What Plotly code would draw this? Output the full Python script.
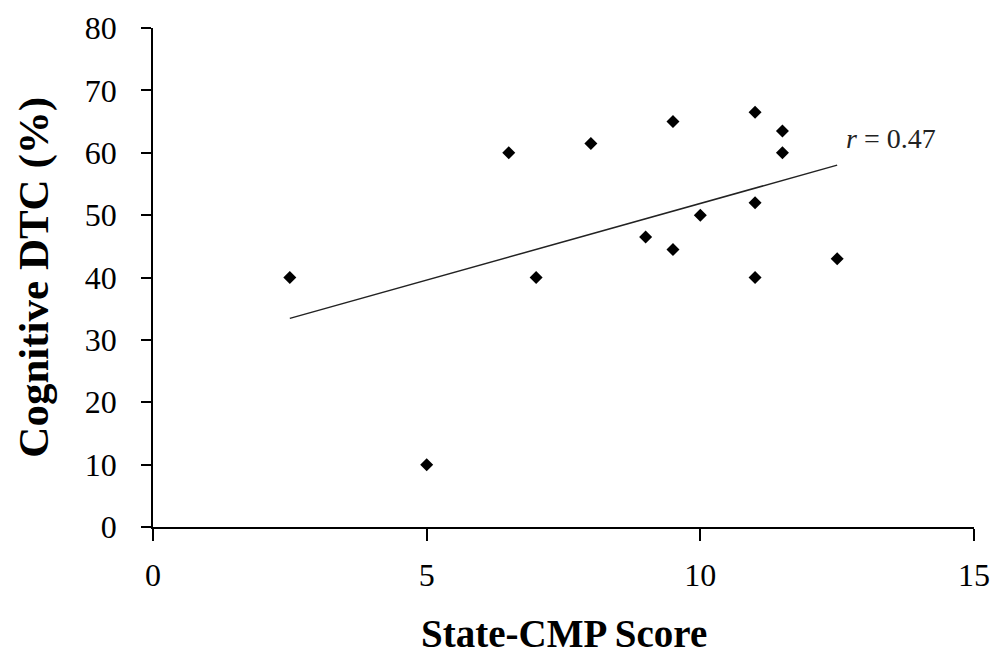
import numpy as np
import plotly.graph_objects as go

# Data
state_cmp = [2.5, 5, 6.5, 7, 8, 9, 9.5, 9.5, 10, 11, 11, 11, 11.5, 11.5, 12.5]
cognitive_dtc = [40, 10, 60, 40, 61.5, 46.5, 65, 44.5, 50, 66.5, 52, 40, 63.5, 60, 43]
x_ticks = [0, 5, 10, 15]
y_ticks = [0, 10, 20, 30, 40, 50, 60, 70, 80]
r_label = "<i>r</i> = 0.47"

# Linear trend line fitted to the data
slope, intercept = np.polyfit(state_cmp, cognitive_dtc, 1)
tx = np.array([min(state_cmp), max(state_cmp)])
ty = slope * tx + intercept

fig = go.Figure()
fig.add_trace(go.Scatter(
    x=tx, y=ty, mode="lines",
    line=dict(color="#222222", width=1.5),
    showlegend=False, hoverinfo="skip",
))
fig.add_trace(go.Scatter(
    x=state_cmp, y=cognitive_dtc, mode="markers",
    marker=dict(symbol="diamond", size=10, color="black"),
    showlegend=False,
))

serif = "Liberation Serif, Times New Roman, serif"

fig.update_layout(
    width=995, height=654,
    margin=dict(l=153, r=21, t=28, b=127, autoexpand=False),
    plot_bgcolor="white", paper_bgcolor="white",
    font=dict(family=serif, color="black"),
    xaxis=dict(
        range=[0, 15], tickvals=x_ticks, showgrid=False, zeroline=False,
        showline=True, linecolor="black", linewidth=1.5,
        ticks="outside", ticklen=12, tickwidth=1.5, tickcolor="black",
        tickfont=dict(family=serif, size=32, color="black"),
        ticklabelstandoff=7, automargin=False,
    ),
    yaxis=dict(
        range=[0, 80], tickvals=y_ticks, showgrid=False, zeroline=False,
        showline=True, linecolor="black", linewidth=1.5,
        ticks="outside", ticklen=10, tickwidth=1.5, tickcolor="black",
        tickfont=dict(family=serif, size=32, color="black"),
        ticklabelstandoff=18, automargin=False,
    ),
    annotations=[
        dict(text="<b>State-CMP Score</b>", xref="paper", yref="paper",
             x=0.5, y=-0.214, xanchor="center", yanchor="middle",
             showarrow=False, font=dict(family=serif, size=39, color="black")),
        dict(text="<b>Cognitive DTC (%)</b>", xref="paper", yref="paper",
             x=-0.146, y=0.5, xanchor="center", yanchor="middle", textangle=-90,
             showarrow=False, font=dict(family=serif, size=43, color="black")),
        dict(text=r_label, xref="x", yref="y", x=12.62, y=62.3,
             xanchor="left", yanchor="middle", showarrow=False,
             font=dict(family=serif, size=28, color="#222222")),
    ],
)

fig.write_html("out.html")
